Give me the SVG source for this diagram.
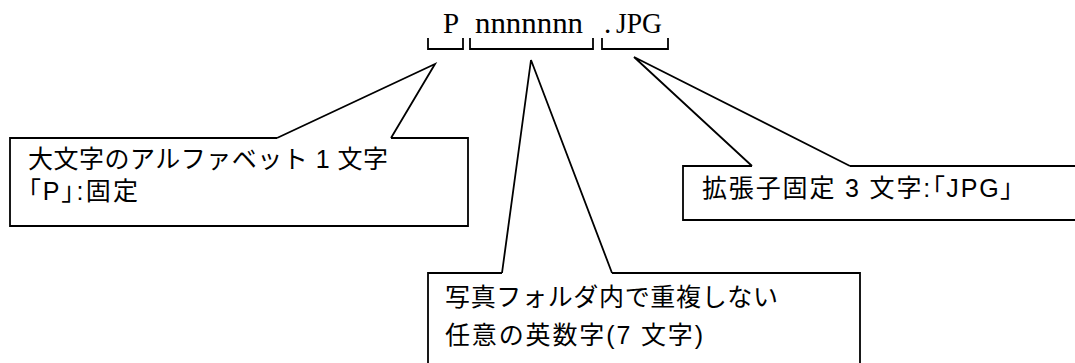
<svg xmlns="http://www.w3.org/2000/svg" width="1075" height="363" viewBox="0 0 1075 363">
<style>
.ln{fill:none;stroke:#000;stroke-width:1.8;stroke-linejoin:miter}
.fn{font-family:"Liberation Serif","Noto Serif CJK JP",serif;font-size:29px;fill:#000}
.tx{font-family:"Liberation Sans","Noto Sans CJK JP",sans-serif;font-size:25px;fill:#000}
.pa{font-feature-settings:"palt"}
</style>
<rect width="1075" height="363" fill="#fff"/>
<g id="filename">
<text class="fn" x="443" y="33">P</text>
<text class="fn" x="475" y="33" textLength="108" lengthAdjust="spacingAndGlyphs">nnnnnnn</text>
<text class="fn" x="604" y="33">.</text>
<text class="fn" x="616" y="33" textLength="46" lengthAdjust="spacingAndGlyphs">JPG</text>
<path class="ln" d="M428,38V49H463V38M470,38V49H593V38M602,38V49H668V38"/>
</g>
<g id="callout-prefix">
<path class="ln" d="M277,138H10V226H468V138H391"/>
<text class="tx" x="28" y="168" textLength="360" lengthAdjust="spacing">大文字のアルファベット 1 文字</text>
<text class="tx pa" x="28" y="200" textLength="110" lengthAdjust="spacing">「P」:固定</text>
</g>
<g id="callout-ext">
<path class="ln" d="M752,166H683V220H1080V166H850"/>
<text class="tx pa" x="702" y="197" textLength="311" lengthAdjust="spacing">拡張子固定 3 文字:「JPG」</text>
</g>
<g id="callout-body">
<path class="ln" d="M502,273H428V370M612,273H860V370"/>
<text class="tx" x="445" y="306" textLength="333" lengthAdjust="spacing">写真フォルダ内で重複しない</text>
<text class="tx" x="445" y="344" textLength="258" lengthAdjust="spacing">任意の英数字(7 文字)</text>
</g>
<g id="connectors">
<polyline class="ln" points="277,138 435,64 391,138"/>
<polyline class="ln" points="752,166 634,57 850,166"/>
<polyline class="ln" points="502,273 531,60 612,273"/>
</g>
</svg>
